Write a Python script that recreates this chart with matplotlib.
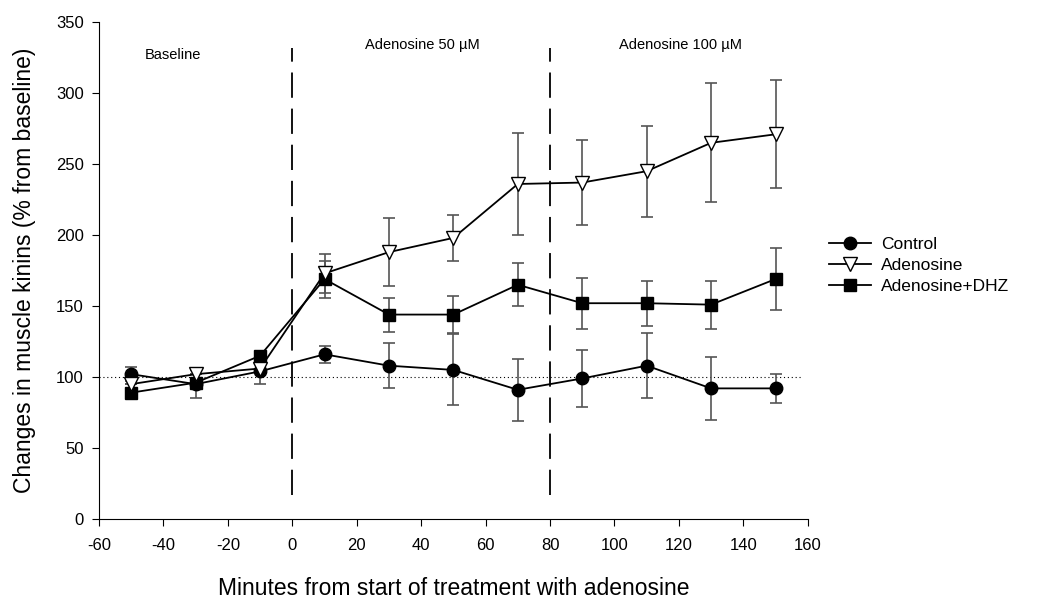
import numpy as np
import matplotlib.pyplot as plt

plt.rcParams['font.family'] = ['Liberation Sans', 'DejaVu Sans']
plt.rcParams['axes.unicode_minus'] = False

minutes = [-50, -30, -10, 10, 30, 50, 70, 90, 110, 130, 150]

control = [102, 95, 104, 116, 108, 105, 91, 99, 108, 92, 92]
control_err = [5, 10, 9, 6, 16, 25, 22, 20, 23, 22, 10]

adenosine = [95, 102, 106, 173, 188, 198, 236, 237, 245, 265, 271]
adenosine_err = [0, 0, 0, 14, 24, 16, 36, 30, 32, 42, 38]

dhz = [89, 96, 115, 169, 144, 144, 165, 152, 152, 151, 169]
dhz_err = [0, 0, 0, 13, 12, 13, 15, 18, 16, 17, 22]

fig = plt.figure(figsize=(10.49, 5.99), dpi=100)
ax = fig.add_axes([0.0944, 0.1336, 0.6756, 0.8294])

err_col = '#555555'
for y, e in [(control, control_err), (adenosine, adenosine_err), (dhz, dhz_err)]:
    ax.errorbar(minutes, y, yerr=e, fmt='none', ecolor=err_col,
                elinewidth=1.2, capsize=4, capthick=1.2, zorder=2)

ax.plot(minutes, control, '-o', color='black', ms=9, lw=1.3,
        label='Control', zorder=3)
ax.plot(minutes, adenosine, '-v', color='black', mfc='white', mec='black',
        ms=10, lw=1.3, label='Adenosine', zorder=4)
ax.plot(minutes, dhz, '-s', color='black', ms=8, lw=1.3,
        label='Adenosine+DHZ', zorder=3)

# reference level and treatment boundaries
ax.axhline(100, xmin=0, xmax=0.99, color='black', ls=(0, (1, 2.5)), lw=0.8, zorder=1)
for xv in [0, 80]:
    ax.plot([xv, xv], [17, 332], color='black', lw=1.3,
            dashes=(14, 6), zorder=1)

ax.text(-37, 327, 'Baseline', ha='center', va='center', fontsize=10.5)
ax.text(40.5, 334, 'Adenosine 50 \u00b5M', ha='center', va='center', fontsize=10.5)
ax.text(120.5, 334, 'Adenosine 100 \u00b5M', ha='center', va='center', fontsize=10.5)

ax.set_xlim(-60, 160)
ax.set_ylim(0, 350)
ax.set_xticks(np.arange(-60, 161, 20))
ax.set_yticks(np.arange(0, 351, 50))
ax.tick_params(axis='x', labelsize=12, direction='out', length=5, pad=9)
ax.tick_params(axis='y', labelsize=12, direction='out', length=5, pad=6)
for s in ['top', 'right']:
    ax.spines[s].set_visible(False)

ax.set_xlabel('Minutes from start of treatment with adenosine', fontsize=16.5, labelpad=17)
ax.set_ylabel('Changes in muscle kinins (% from baseline)', fontsize=16.5, labelpad=14)

ax.legend(loc='center left', bbox_to_anchor=(1.008, 0.51), frameon=False,
          fontsize=12.5, handlelength=2.4, handletextpad=0.6, labelspacing=0.35)

fig.savefig('out.png', dpi=100)
